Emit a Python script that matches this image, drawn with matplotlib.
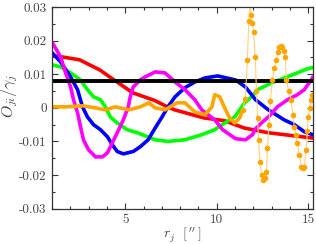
import numpy as np
import matplotlib
matplotlib.use("Agg")
import matplotlib.pyplot as plt
from matplotlib.ticker import MultipleLocator, FixedLocator, FixedFormatter

plt.rcParams['font.family'] = 'serif'
plt.rcParams['font.serif'] = ['cmr10']
plt.rcParams['mathtext.fontset'] = 'cm'
plt.rcParams['axes.unicode_minus'] = False

# horizontal reference level
black_x = [1.0, 15.25]
black_y = [0.008, 0.008]

red_x = [1.0, 1.5, 2.5, 3.6, 4.2, 5.4, 6.6, 7.3, 7.7, 9.3, 10.4, 11.5, 12.8, 15.25]
red_y = [0.0155, 0.0152, 0.0143, 0.0113, 0.0090, 0.0045, 0.0022, 0.0003, -0.0006,
         -0.0030, -0.0038, -0.0060, -0.0074, -0.0090]

green_x = [1.0, 1.46, 2.01, 2.55, 2.93, 3.26, 3.64, 3.91, 4.18, 4.56, 5.1, 5.65, 6.63,
           7.33, 8.26, 9.18, 9.89, 10.43, 10.98, 11.52, 11.9, 12.23, 12.99, 13.69,
           14.4, 14.94, 15.25]
green_y = [0.0128, 0.0122, 0.0104, 0.0083, 0.0054, 0.0033, 0.0024, 0.0003, -0.0027,
           -0.0045, -0.0065, -0.0074, -0.0095, -0.0100, -0.0095, -0.0080, -0.0065,
           -0.0045, -0.0027, 0.0015, 0.0033, 0.0054, 0.0074, 0.0089, 0.0104, 0.0116,
           0.0120]

blue_x = [1.0, 1.46, 2.01, 2.39, 2.66, 2.93, 3.26, 3.64, 4.02, 4.29, 4.56, 4.89, 5.43,
          5.81, 6.25, 6.63, 7.01, 7.33, 7.72, 8.26, 8.8, 9.35, 10.05, 11.03, 11.57,
          12.12, 12.82, 13.69, 14.24, 14.78, 15.25]
blue_y = [0.0164, 0.0137, 0.0092, 0.0054, 0.0003, -0.0027, -0.0050, -0.0065, -0.0086,
          -0.0110, -0.0130, -0.0137, -0.0130, -0.0116, -0.0095, -0.0060, -0.0027,
          0.0003, 0.0033, 0.0060, 0.0077, 0.0089, 0.0095, 0.0083, 0.0062, 0.0024,
          -0.0006, -0.0036, -0.0050, -0.0071, -0.0080]

magenta_x = [1.0, 1.46, 1.74, 2.01, 2.17, 2.39, 2.55, 2.71, 2.99, 3.37, 3.75, 4.02,
             4.18, 4.56, 4.89, 5.16, 5.27, 5.43, 5.81, 6.08, 6.63, 7.17, 7.72, 8.26,
             8.8, 9.18, 9.89, 10.32, 11.03, 11.57, 11.95, 12.12, 12.5, 12.88, 13.31,
             13.86, 14.4, 14.78, 15.16, 15.25]
magenta_y = [0.0195, 0.0152, 0.0104, 0.0062, 0.0024, -0.0015, -0.0056, -0.0095,
             -0.0125, -0.0146, -0.0146, -0.0134, -0.0116, -0.0074, -0.0036, 0.0003,
             0.0033, 0.0062, 0.0083, 0.0092, 0.0107, 0.0104, 0.0077, 0.0054, 0.0024,
             -0.0006, -0.0036, -0.0065, -0.0092, -0.0095, -0.0080, -0.0062, -0.0042,
             -0.0024, 0.0003, 0.0024, 0.0039, 0.0054, 0.0083, 0.0092]

orange_x = [1.0, 1.79, 2.66, 3.37, 3.91, 4.45, 5.21, 5.81, 6.3, 6.63, 7.17, 7.82, 8.26,
            8.8, 9.35, 9.73, 9.89, 10.16, 10.43, 10.7, 10.98, 11.25, 11.41,
            11.56, 11.67, 11.75, 11.83, 11.88, 11.95, 12.01, 12.1, 12.17, 12.23, 12.28,
            12.36, 12.45, 12.55, 12.66, 12.71, 12.77, 12.85, 12.93, 13.04, 13.15, 13.26,
            13.34, 13.42, 13.5, 13.58, 13.67, 13.75, 13.8, 13.93, 14.07, 14.15, 14.24,
            14.32, 14.4, 14.51, 14.62, 14.7, 14.78, 14.89, 14.95, 15.0, 15.08, 15.16,
            15.22]
orange_y = [0.0003, 0.0003, 0.0006, 0.0, -0.0006, 0.0003, -0.0006, 0.0003, 0.0015, 0.0,
            -0.0006, 0.0015, 0.0015, -0.0012, -0.0021, 0.0003, 0.0039, 0.0033, 0.0,
            -0.0030, -0.0045, -0.0030, -0.0006,
            0.0027, 0.0143, 0.0260, 0.0310, 0.0277, 0.0253, 0.0226, 0.0152, 0.0050,
            -0.0030, -0.0095, -0.0160, -0.0200, -0.0215, -0.0210, -0.0190, -0.0120,
            -0.0050, 0.0020, 0.0083, 0.0120, 0.0143, 0.0165, 0.0182, 0.0184, 0.0180,
            0.0170, 0.0152, 0.0083, 0.0050, 0.0024, -0.0020, -0.0056, -0.0080, -0.0104,
            -0.0140, -0.0175, -0.0178, -0.0175, -0.0125, -0.0070, -0.0027, 0.0000,
            0.0024, 0.0039]

fig = plt.figure(figsize=(3.16, 2.44), dpi=100)
ax = fig.add_axes([0.165, 0.145, 0.825, 0.826])

lw = 2.6
ax.plot(red_x, red_y, color='#ff0000', lw=lw, solid_capstyle='round')
ax.plot(green_x, green_y, color='#00ff00', lw=lw, solid_capstyle='round')
ax.plot(blue_x, blue_y, color='#0000ff', lw=lw, solid_capstyle='round')
ax.plot(magenta_x, magenta_y, color='#ff00ff', lw=lw, solid_capstyle='round')
ax.plot(black_x, black_y, color='black', lw=lw + 0.2)

n = 23  # dense part of the orange curve
ax.plot(orange_x[:n], orange_y[:n], color='#ffa500', lw=lw, solid_capstyle='round')
ax.plot(orange_x[n - 1:], orange_y[n - 1:], color='#ffd27a', lw=0.8,
        marker='o', ms=3, mfc='#ffa500', mec='#ffa500')

ax.set_xlim(1.0, 15.25)
ax.set_ylim(-0.03, 0.03)

ax.xaxis.set_major_locator(FixedLocator([5, 10, 15]))
ax.xaxis.set_major_formatter(FixedFormatter(['5', '10', '15']))
ax.xaxis.set_minor_locator(MultipleLocator(1))
yt = [-0.03, -0.02, -0.01, 0, 0.01, 0.02, 0.03]
ax.yaxis.set_major_locator(FixedLocator(yt))
ax.yaxis.set_major_formatter(FixedFormatter(['-0.03', '-0.02', '-0.01', '0',
                                             '0.01', '0.02', '0.03']))
ax.yaxis.set_minor_locator(MultipleLocator(0.005))
ax.tick_params(which='both', direction='in', top=True, right=True,
               labelsize=9.5, width=0.8, colors='#333333', labelcolor='#444444')
ax.tick_params(which='major', length=4, pad=4)
ax.tick_params(which='minor', length=2.5)
for s in ax.spines.values():
    s.set_color('#333333')
    s.set_linewidth(0.9)

ax.set_xlabel(r"$r_j\ \ [\,''\,]$", fontsize=10, color='#444444')
ax.set_ylabel(r"$O_{ji}/\gamma_j$", fontsize=11.5, color='#444444')
ax.xaxis.set_label_coords(0.5, -0.085)
ax.yaxis.set_label_coords(-0.125, 0.56)

fig.savefig('out.png', dpi=100)
